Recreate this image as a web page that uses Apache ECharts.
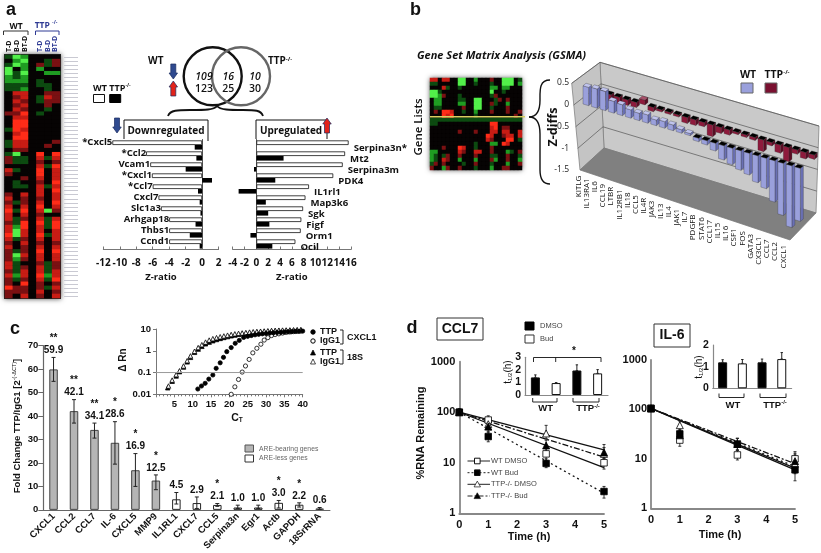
<!DOCTYPE html>
<html><head><meta charset="utf-8"><style>html,body{margin:0;padding:0;background:#fff}#c{width:821px;height:553px}</style>
<script src="https://cdn.jsdelivr.net/npm/echarts@6/dist/echarts.min.js"></script></head>
<body><div id="c"></div>
<script>
// ---- panel a heat map (letters are colour levels)
const heatCols=["T-D","B-D","BT-D","","T-D ","B-D ","BT-D "];
const colA1="d0dGGggdd00000r000d00dd0drr0Rr0000rRrRXRRrRRXRrRrrrRRrRrrXrr";
const colA2="GgG0ddgddRrRrRrRXXXRXRRrGdd0d00dd000d0d0ddgGGd00dGgdddgd0rr0";
const colA3="gGggGggdgRRrRrXRXXRXXRRr0dd000r0d0RrrRXRrXXRRrRrrRr0rRRrXrrR";
const colGap="000000000000000000000000000000000000000000000000000000000000";
const colA4="00rg00dd00dd00d000000000XRrRXXRrRRRrRXRrRXRRXRrRXRRrRRXRrrRr";
const colA5="0dd0g00ddrRrrd00000000r00d0d0000d00000G0ddd0d000000dddgd0d00g";
const colA6="0rr0g0000rrr000000000r00XRrXRRRXRXRRXRr0RXXRRRrRXRRrrRRXrRrR";
const heatLevels={G:-3,g:-2,d:-1,"0":0,r:1,R:2,X:3};
// ---- panel b small heat map rows
const gsmaRows=[
"RR0RR00GG00g000r00GGG0d",
"dd00000GG00d000d00GGG0g",
"000Rd00d0000000gg0gg000",
"GGd000000000000G00d0000",
"GGgr000d0000000dr000000",
"0gg0000dd00GG000dr0r000",
"0gg0000gg00GG00rd00g000",
"0dd00000r00GG00d000r000",
"0r0XXR00d00g000r000r00r",
"000XRX00000d000000000r0",
"ddddddddddddddddddddddd",
"dd0000000000000XX000000",
"000000000000000RX0rr000",
"0000000r000r000RR0RR00R",
"00000000000000XR00rRR0R",
"00000000000000Rr000XX0d",
"00000000000d000gg0XR000",
"000r000XR00d000r0000000",
"gg00000Rr00RR00r000gd0r",
"gd0dr00r000r000dd00r00d",
"gd0Rr00g000g000rg00r00g",
"dr0r0000d00r000d000g00r",
"r00gr00r000d000g00rr000"];
// ---- panel a venn labels and bar charts
const downGenes=["*Cxcl5","*Ccl2","Vcam1","*Cxcl1","*Ccl7","Cxcl7","Slc1a3","Arhgap18","Thbs1","Ccnd1"];
const downWT=[-10.9,-6.8,-6.3,-6.1,-6,-5.3,-5,-4,-4,-4];
const downTTP=[-0.9,-0.7,-2,1.2,-0.5,-0.3,-0.2,-0.8,-1.5,-0.3];
const upGenes=["Serpina3n*","Mt2","Serpina3m","PDK4","IL1rl1","Map3k6","Sgk","Figf","Orm1","Ocil"];
const upWT=[15.6,15,14.6,13,8.9,8.3,7.9,7.6,7.5,6.6];
const upTTP=[0,4.6,-0.4,3.2,-3,1.6,2,2.2,-1,2.7];
// ---- panel b
const gsmaGenes=["KITLG","IL13RA1","IL6","CCL19","LTBR","IL12RB1","IL18","CCL5","IL4R","JAK3","IL13","IL4","JAK1","IL7","PDGFB","STAT6","CCL17","IL15","IL16","CSF1","FOS","GATA3","CX3CL1","CCL7","CCL2","CXCL1"];
const gsmaWT=[0.42,0.44,0.44,0.27,0.25,0.19,0.17,0.19,0.13,0.15,0.13,0.08,0.05,-0.08,-0.1,-0.18,-0.33,-0.38,-0.45,-0.5,-0.62,-0.7,-0.95,-1.2,-1.42,-1.22];
const gsmaTTP=[-0.1,-0.16,-0.18,-0.13,-0.12,0.11,-0.1,-0.05,-0.05,-0.05,-0.14,-0.13,-0.1,-0.27,-0.14,-0.12,-0.05,-0.06,-0.07,-0.27,-0.08,-0.19,-0.33,-0.1,-0.15,-0.1];
// ---- panel c
const foldGenes=["CXCL1","CCL2","CCL7","IL-6","CXCL5","MMP9","IL1RL1","CXCL7","CCL5","Serpina3n","Egr1","Actb","GAPDH","18SrRNA"];
const foldValues=[59.9,42.1,34.1,28.6,16.9,12.5,4.5,2.9,2.1,1.0,1.0,3.0,2.2,0.6];
const foldLow=[54.8,37,30.6,19.5,10,8.6,2.5,0.6,1.5,0.6,0.6,0.8,1.2,0.2];
const foldHigh=[65,47,37,37.6,24,14.9,7.4,5.5,2.7,2,2,4,3,1];
const foldStars=["**","**","**","*","*","*","","","*","","","*","*",""];
const foldAre=[1,1,1,1,1,1,0,0,0,0,0,0,0,1];
const ctTtpCxcl1=[[11.4,0.0175],[12.4,0.024],[13.4,0.032],[14.4,0.05],[15.5,0.077],[16.4,0.156],[17.5,0.28],[18.4,0.5],[19.3,0.91],[20.5,1.4],[21.6,2.2],[22.7,3],[23.9,4.1],[25,4.6],[26,5],[27,5.4],[28,5.7],[29,6],[30,6.2],[31,6.5],[32,6.7],[33,6.9],[34,7],[35,7.2],[36,7.4],[37,7.5],[38,7.7],[39,7.8],[40,8]];
const ctIggCxcl1=[[20.5,0.01],[21.5,0.022],[22.5,0.048],[23.5,0.105],[24.4,0.2],[25.4,0.4],[26.4,0.8],[27.5,1.3],[28.6,2],[29.5,3.1],[30.5,4],[31.5,5],[32.5,5.6],[33.5,6],[34.5,6.5],[35.5,7],[36.5,7.3],[37.5,7.6],[38.5,7.8],[39.5,8]];
const ctTtp18s=[[3.2,0.02],[4.4,0.04],[5.5,0.07],[6.4,0.11],[7.5,0.18],[8.5,0.31],[9.4,0.5],[10.5,0.85],[11.5,1.2],[12.5,1.6],[13.5,2.1],[14.5,2.5],[15.5,2.9],[16.5,3.3],[17.5,3.7],[18.5,4.1],[19.5,4.5],[20.5,4.9],[21.5,5.3],[22.5,5.7],[23.5,6],[24.5,6.3],[25.5,6.6],[26.5,6.9],[27.5,7.2],[28.5,7.5],[29.5,7.7],[30.5,7.9],[31.5,8.1],[32.5,8.3],[33.5,8.4],[34.5,8.5],[35.5,8.6],[36.5,8.7],[37.5,8.8],[38.5,8.9],[39.5,9]];
const ctIgg18s=[[3.4,0.024],[4.4,0.045],[5.5,0.08],[6.4,0.12],[7.5,0.2],[8.5,0.35],[9.4,0.58],[10.5,0.95],[11.5,1.4],[12.5,1.9],[13.5,2.5],[14.5,3.1],[15.5,3.6],[16.5,4],[17.5,4.4],[18.5,4.8],[19.5,5.2],[20.5,5.6],[21.5,6],[22.5,6.3],[23.5,6.6],[24.5,6.9],[25.5,7.2],[26.5,7.5],[27.5,7.7],[28.5,7.9],[29.5,8.1],[30.5,8.3],[31.5,8.5],[32.5,8.6],[33.5,8.8],[34.5,8.9],[35.5,9],[36.5,9.1],[37.5,9.2],[38.5,9.3],[39.5,9.4]];
const thresholdLine=[[0,0.1],[40,0.1]];
// ---- panel d
const timePoints=[0,1,3,5];
const fitTimes=[0,5];
const ccl7WtDmso=[100,70,15,10],ccl7WtDmsoLow=[90,52,11,7.5],ccl7WtDmsoHigh=[115,85,19,13],ccl7WtDmsoFit=[100,8];
const ccl7WtBud=[100,33,9.7,2.7],ccl7WtBudLow=[90,26,8,2],ccl7WtBudHigh=[115,42,12,3.4],ccl7WtBudFit=[100,2.5];
const ccl7TtpDmso=[100,58,38,15],ccl7TtpDmsoLow=[90,45,28,12],ccl7TtpDmsoHigh=[115,72,55,20],ccl7TtpDmsoFit=[100,18];
const ccl7TtpBud=[100,52,22,16],ccl7TtpBudLow=[90,40,16,12],ccl7TtpBudHigh=[115,65,30,23],ccl7TtpBudFit=[100,13];
const il6WtDmso=[105,24,12,10],il6WtDmsoLow=[95,18,9.5,7],il6WtDmsoHigh=[115,30,15,14],il6WtDmsoFit=[105,6];
const il6WtBud=[105,32,20,6],il6WtBudLow=[95,25,15,3.6],il6WtBudHigh=[115,40,26,9],il6WtBudFit=[105,7];
const il6TtpDmso=[105,48,20,8],il6TtpDmsoLow=[95,38,15,5],il6TtpDmsoHigh=[115,58,26,12],il6TtpDmsoFit=[105,6.5];
const il6TtpBud=[105,30,20,9],il6TtpBudLow=[95,24,15,6],il6TtpBudHigh=[115,38,26,13],il6TtpBudFit=[105,8];
const halfLifeGroups=["WT DMSO","WT Bud","TTP DMSO","TTP Bud"];
const ccl7HalfLife=[1.4,0.95,1.95,1.72],ccl7HalfLifeErr=[0.2,0.03,0.45,0.3];
const il6HalfLife=[1.2,1.15,1.2,1.35],il6HalfLifeErr=[0.12,0.18,0.15,0.3];

const FA="'Open Sans',sans-serif", FL="'Liberation Sans',Arial,sans-serif";
const grid=[],xAxis=[],yAxis=[],series=[],graphic=[];
function addAxes(g,x,y){grid.push(Object.assign({containLabel:false},g));const i=grid.length-1;
  xAxis.push(Object.assign({gridIndex:i},x));yAxis.push(Object.assign({gridIndex:i},y));return i;}
function T(x,y,text,o){o=o||{};graphic.push({type:'text',x,y,rotation:o.rot||0,z:o.z||5,silent:true,style:{text,fill:o.color||'#111',fontSize:o.size||10,fontWeight:o.weight||'bold',fontStyle:o.italic?'italic':'normal',fontFamily:o.font||FA,align:o.align||'center',verticalAlign:'middle',rich:o.rich}});}
// decorative strokes: M/L straight segments and C curves become line and bezierCurve elements
function P(d,o){o=o||{};const tk=d.match(/[MLC]|-?[\d.]+/g);let i=0,cx=0,cy=0,cmd='M';
  const st={stroke:o.stroke===undefined?'#111':o.stroke,lineWidth:o.lw||1,fill:'none'};
  while(i<tk.length){if(/[MLC]/.test(tk[i]))cmd=tk[i++];
    if(cmd==='M'){cx=+tk[i++];cy=+tk[i++];}
    else if(cmd==='L'){const x=+tk[i++],y=+tk[i++];graphic.push({type:'line',z:o.z===undefined?1:o.z,silent:true,shape:{x1:cx,y1:cy,x2:x,y2:y},style:st});cx=x;cy=y;}
    else{const a=tk.slice(i,i+6).map(Number);i+=6;graphic.push({type:'bezierCurve',z:o.z===undefined?1:o.z,silent:true,shape:{x1:cx,y1:cy,cpx1:a[0],cpy1:a[1],cpx2:a[2],cpy2:a[3],x2:a[4],y2:a[5]},style:st});cx=a[4];cy=a[5];}
  }}
function poly(points,fill,stroke,z){graphic.push({type:'polygon',z:z||0,silent:true,shape:{points},style:{fill,stroke:stroke||'none',lineWidth:0.7}});}
function R(x,y,w,h,fill,stroke,o){o=o||{};graphic.push({type:'rect',z:o.z===undefined?1:o.z,silent:true,shape:{x,y,width:w,height:h},style:Object.assign({fill,stroke:stroke||'none',lineWidth:o.lw||1},o.style||{})});}
function C(cx,cy,r,stroke,lw){graphic.push({type:'circle',z:3,silent:true,shape:{cx,cy,r},style:{fill:'none',stroke,lineWidth:lw}});}
const supRich=(s)=>({s:{fontSize:s,fontWeight:'bold',padding:[0,0,5,0],fontFamily:FA}});

// ---------- heat maps
function heatSeries(gi,cells){series.push({type:'heatmap',xAxisIndex:gi,yAxisIndex:gi,data:cells,progressive:0,animation:false,itemStyle:{borderWidth:0},emphasis:{disabled:true}});return series.length-1;}
R(4,54,57,245,'#222','none',{style:{shadowBlur:5,shadowColor:'#555'},z:0});
const aColumns=[colA1,colA2,colA3,colGap,colA4,colA5,colA6];
const aCells=[];aColumns.forEach((col,c)=>[...col].forEach((ch,r)=>aCells.push([c,r,heatLevels[ch]])));
const rowIds=[...colGap].map((_,i)=>String(i));
let g=addAxes({left:5,top:55,width:55,height:243},{type:'category',data:heatCols,show:false},
  {type:'category',data:rowIds,inverse:true,position:'right',offset:4,axisLine:{show:false},axisLabel:{show:false},axisTick:{show:true,interval:0,length:14,alignWithLabel:true,lineStyle:{color:'#c9c9d2',width:1}}});
const h1=heatSeries(g,aCells);

R(430,78,92,92,'#111','none',{style:{shadowBlur:5,shadowColor:'#555'},z:0});
const bCells=[];gsmaRows.forEach((row,r)=>[...row].forEach((ch,c)=>bCells.push([c,r,heatLevels[ch]])));
g=addAxes({left:430,top:78,width:92,height:92},{type:'category',data:[...gsmaRows[0]].map((_,i)=>'c'+i),show:false},
  {type:'category',data:gsmaRows.map((_,i)=>'r'+i),inverse:true,show:false});
const h2=heatSeries(g,bCells);

// ---------- panel a bars
function regBars(left,width,min,max,labels,white,black){
  const gi=addAxes({left,top:139.5,width,height:110},
   {type:'value',min,max,interval:2,splitLine:{show:false},axisLine:{show:true,onZero:false,lineStyle:{color:'#777'}},axisTick:{show:true,inside:true,length:3,lineStyle:{color:'#777'}},axisLabel:{color:'#111',fontWeight:'bold',fontFamily:FA,fontSize:10,margin:9},
    name:'Z-ratio',nameLocation:'middle',nameGap:23,nameTextStyle:{color:'#111',fontWeight:'bold',fontFamily:FA,fontSize:9.5}},
   {type:'category',data:labels,inverse:true,axisLabel:{show:false},axisTick:{show:false},axisLine:{show:true,lineStyle:{color:'#555'}},splitLine:{show:false}});
  const isDown=left<200;
  series.push({type:'bar',xAxisIndex:gi,yAxisIndex:gi,data:white,barWidth:4.6,barGap:'0%',animation:false,itemStyle:{color:'#fff',borderColor:'#111',borderWidth:0.8},
    label:{show:true,position:isDown?'left':'right',distance:isDown?0:2,offset:isDown?[0,0]:[3,6],formatter:p=>labels[p.dataIndex],color:'#111',fontWeight:'bold',fontFamily:FA,fontSize:9.6}});
  series.push({type:'bar',xAxisIndex:gi,yAxisIndex:gi,data:black,barWidth:4.6,barGap:'0%',animation:false,itemStyle:{color:'#000'}});
}
regBars(103.3,115.3,-12,2,downGenes,downWT,downTTP);
regBars(232.7,118.3,-4,16,upGenes,upWT,upTTP);
P("M124,139 L124,120 L208,120 L208,141",{lw:1});
P("M256,139 L256,120 L327,120 L327,139",{lw:1});
T(166,131,"Downregulated",{size:10});
T(291,131,"Upregulated",{size:10});
P("M168,116 C170,110 178,110 190,110 C205,110 214,110 217,106 C220,110 230,110 243,110 C255,110 261,110 263,116",{lw:1.8});
function arrow(x,y,h,w,up,fill){const hw=w*0.85,head=h*0.4;
  const p=up?[[x,y],[x+hw,y+head],[x+w/2,y+head],[x+w/2,y+h],[x-w/2,y+h],[x-w/2,y+head],[x-hw,y+head]]
            :[[x,y+h],[x+hw,y+h-head],[x+w/2,y+h-head],[x+w/2,y],[x-w/2,y],[x-w/2,y+h-head],[x-hw,y+h-head]];
  poly(p,fill,'#1a2b60',6);}
arrow(117,118,15,5,false,'#2f4a8f');
arrow(327,118,15,5,true,'#e2231a');
arrow(173.3,64,15,5,false,'#2f4a8f');
arrow(173.3,81,15,5,true,'#e2231a');
C(212.7,76.3,29,'#111',2.4);C(241,76.3,29,'#666',2.4);
[[204,"109"],[228.3,"16"],[255,"10"]].forEach(a=>T(a[0],76.7,a[1],{size:10.5,italic:true,weight:'600'}));
[[204,"123"],[228.3,"25"],[255,"30"]].forEach(a=>T(a[0],88.7,a[1],{size:10.5,weight:'600'}));
T(155.7,61.5,"WT",{size:10});
T(280,61.5,"TTP{s|-/-}",{size:10,rich:supRich(6)});
T(100,88,"WT",{size:9});T(120,88,"TTP{s|-/-}",{size:9,rich:supRich(5)});
R(93.5,94.5,11,8,'#fff','#111');R(109.7,94.5,11,8,'#000','#000');
T(6,10,"a",{size:18,font:FL,align:'left'});
T(16,27,"WT",{size:8.5});
T(46,25.5,"TTP {s|-/-}",{size:8.5,color:'#2f3b94',rich:supRich(5)});
P("M3.5,35 L3.5,31 L28,31 L28,35",{lw:1,stroke:'#333'});
P("M35.5,35 L35.5,31 L59,31 L59,35",{lw:1,stroke:'#2f3b94'});
[[8.7,"T-D",'#111'],[16.7,"B-D",'#111'],[24.5,"BT-D",'#111'],[39.5,"T-D",'#2f3b94'],[47.5,"B-D",'#2f3b94'],[55.4,"BT-D",'#2f3b94']].forEach(a=>
  T(a[0],52,a[1],{size:7,rot:Math.PI/2,align:'left',color:a[2]}));

// ---------- panel b
T(410,10,"b",{size:18,font:FL,align:'left'});
T(417,55.7,"Gene Set Matrix Analysis (GSMA)",{size:11,italic:true,align:'left'});
T(419,127,"Gene Lists",{size:11.5,rot:Math.PI/2,weight:'600'});
T(553,127,"Z-diffs",{size:12.5,rot:Math.PI/2});
R(430,116,95,1.4,'#d8cf60','none',{z:4});
P("M550,80 C539,80 540,90 540,100 C540,112 536,117 529,117 C536,117 540,122 540,134 L540,170 C540,180 544,184 550,184",{lw:1.4});
poly([[600,62.3],[819,126],[816,213],[604,148]],'#c9c9c9','#777');
poly([[571.7,83.3],[600,62.3],[604,148],[580,170]],'#c4c4c4','#777');
poly([[580,170],[604,148],[816,213],[790,240]],'#808080','#777');
[0,1,2,3].forEach(k=>{const yL=83.3+21.7*k,xL=571.7+2*k,yM=62.3+21.5*k,xM=600+1*k,yR=126+21.7*k,xR=819-0.75*k;
  P(`M${xL},${yL} L${xM},${yM} L${xR},${yR}`,{lw:0.7,stroke:'#555',z:0});});
T(748,75,"WT",{size:10.5});T(777,75,"TTP{s|-/-}",{size:10.5,rich:supRich(6)});
R(741,83,12,10,'#9aa0dc','#666',{z:2});R(765,83,12,10,'#7a1030','#666',{z:2});
g=addAxes({left:572,top:83,width:239.7,height:87},{type:'value',min:-1.3,max:27,show:false},
  {type:'value',min:-1.5,max:0.5,interval:0.5,splitLine:{show:false},axisLine:{show:false},axisTick:{show:false},axisLabel:{color:'#222',fontFamily:FA,fontSize:8.5,margin:3,formatter:v=>String(v)}});
const gb=g;
function bars3d(values,dx,dy,fc,sc,lc){return {type:'custom',xAxisIndex:gb,yAxisIndex:gb,animation:false,clip:false,silent:true,
  data:values.map((v,i)=>[i,v]),encode:{x:0,y:1},renderItem:(params,api)=>{
   const i=api.value(0),v=api.value(1),S=2.507,sl=0.296,W=5.6,Dx=3,Dy=-2.5;
   const c0=api.coord([i,0]),c1=api.coord([i,v]);
   const x=c0[0]+dx,y0=c0[1]+i*S+dy,y1=c1[1]+i*S+dy,ys=W*sl,t=Math.min(y0,y1);
   return {type:'group',children:[
    {type:'polygon',shape:{points:[[x+W,y0+ys],[x+W+Dx,y0+ys+Dy],[x+W+Dx,y1+ys+Dy],[x+W,y1+ys]]},style:{fill:sc,stroke:'#333',lineWidth:0.3}},
    {type:'polygon',shape:{points:[[x,y0],[x+W,y0+ys],[x+W,y1+ys],[x,y1]]},style:{fill:fc,stroke:'#333',lineWidth:0.3}},
    {type:'polygon',shape:{points:[[x,t],[x+W,t+ys],[x+W+Dx,t+ys+Dy],[x+Dx,t+Dy]]},style:{fill:v<0?'#000':lc,stroke:'#222',lineWidth:0.3}}]};}};}
series.push(bars3d(gsmaTTP,14,-14.05,'#8e1a3c','#5a0c24','#a8506a'));
series.push(bars3d(gsmaWT,0,-0.75,'#9aa0dc','#6a70b4','#c0c4ee'));
series.push({type:'custom',xAxisIndex:gb,yAxisIndex:gb,animation:false,clip:false,silent:true,data:gsmaGenes.map((n,i)=>[i,-1.5]),encode:{x:0,y:1},
  renderItem:(params,api)=>{const i=api.value(0),c=api.coord([i,-1.5]);
    return {type:'text',x:c[0]-4.6+(-0.27)*i,y:c[1]+5.7+2.77*i,rotation:Math.PI/2,style:{text:gsmaGenes[i],align:'right',verticalAlign:'middle',fontSize:8,fontFamily:FA,fill:'#111'}};}});

// ---------- panel c
T(15,329,"c",{size:18,font:FL});
g=addAxes({left:43.3,top:345.7,width:286.6,height:166.3},
  {type:'category',data:foldGenes,axisLine:{lineStyle:{color:'#666',width:1.2}},axisTick:{show:false},axisLabel:{interval:0,rotate:45,color:'#111',fontWeight:'bold',fontFamily:FL,fontSize:9.5,margin:5}},
  {type:'value',min:0,max:70,interval:10,splitLine:{show:false},axisLine:{show:true,lineStyle:{color:'#666',width:1.2}},axisTick:{show:true,lineStyle:{color:'#666'}},axisLabel:{color:'#111',fontWeight:'bold',fontFamily:FL,fontSize:9.5,margin:5}});
const gc=g;
series.push({type:'bar',xAxisIndex:gc,yAxisIndex:gc,barWidth:8.5,animation:false,data:foldValues.map((v,i)=>({value:v,itemStyle:{color:foldAre[i]?'#b5b5b5':'#fff',borderColor:foldAre[i]?'#444':'#222',borderWidth:1}}))});
function errBars(gi,xs,lows,highs,color,cap,lw){return {type:'custom',xAxisIndex:gi,yAxisIndex:gi,animation:false,clip:false,silent:true,z:4,
  data:xs.map((x,i)=>[x,lows[i],highs[i]]),encode:{x:0,y:[1,2]},renderItem:(p,api)=>{
   const a=api.coord([api.value(0),api.value(1)]),b=api.coord([api.value(0),api.value(2)]),st={stroke:color,lineWidth:lw||1};
   return {type:'group',children:[
    {type:'line',shape:{x1:a[0],y1:a[1],x2:b[0],y2:b[1]},style:st},
    {type:'line',shape:{x1:a[0]-cap,y1:a[1],x2:a[0]+cap,y2:a[1]},style:st},
    {type:'line',shape:{x1:b[0]-cap,y1:b[1],x2:b[0]+cap,y2:b[1]},style:st}]};}};}
series.push(errBars(gc,foldGenes.map((_,i)=>i),foldLow,foldHigh,'#222',2,1));
series.push({type:'scatter',xAxisIndex:gc,yAxisIndex:gc,symbolSize:0,animation:false,silent:true,itemStyle:{opacity:1},data:foldHigh.map((v,i)=>[i,v]),
  label:{show:true,position:'top',distance:1,opacity:1,formatter:p=>{const s=foldStars[p.dataIndex];const t=foldValues[p.dataIndex].toFixed(1);return s?s+"\n"+t:t;},color:'#111',fontWeight:'bold',fontFamily:FL,fontSize:10,lineHeight:12}});
T(17,426,"Fold Change TTP/IgG1 [2{s|-(-ΔCT)}]",{font:FL,size:9.5,rot:Math.PI/2,weight:'600',rich:{s:{fontSize:5.5,fontFamily:FL,padding:[0,0,5,0]}}});
R(245,445,8.5,7,'#b5b5b5','#555');R(245,455,8.5,7,'#fff','#333');
T(259,449,"ARE-bearing genes",{font:FL,size:6.8,weight:'normal',align:'left',color:'#666'});
T(259,458.5,"ARE-less genes",{font:FL,size:6.8,weight:'normal',align:'left',color:'#666'});
// inset
g=addAxes({left:156,top:329,width:146.7,height:65.3},
  {type:'value',min:0,max:40,interval:5,splitLine:{show:false},axisLine:{lineStyle:{color:'#777'}},axisTick:{lineStyle:{color:'#777'},length:3},minorTick:{show:true,splitNumber:5,length:2,lineStyle:{color:'#777'}},axisLabel:{color:'#111',fontWeight:'bold',fontFamily:FL,fontSize:9.5,margin:5,formatter:v=>v===0?'':v}},
  {type:'log',min:0.01,max:10,logBase:10,splitLine:{show:false},minorTick:{show:false},minorSplitLine:{show:false},axisLine:{show:true,lineStyle:{color:'#777'}},axisTick:{show:true,lineStyle:{color:'#777'},length:3},axisLabel:{color:'#111',fontWeight:'bold',fontFamily:FL,fontSize:9.5,margin:5}});
series.push({type:'line',xAxisIndex:g,yAxisIndex:g,data:thresholdLine,showSymbol:false,animation:false,silent:true,lineStyle:{color:'#999',width:1}});
function pts(gi,data,sym,fill,size){return {type:'scatter',xAxisIndex:gi,yAxisIndex:gi,data,symbol:sym,symbolSize:size,animation:false,silent:true,itemStyle:{color:fill,borderColor:'#000',borderWidth:0.8,opacity:1}};}
series.push(pts(g,ctTtp18s,'triangle','#000',4.5));
series.push(pts(g,ctIgg18s,'triangle','#fff',4.5));
series.push(pts(g,ctIggCxcl1,'circle','#fff',4.2));
series.push(pts(g,ctTtpCxcl1,'circle','#000',4.2));
T(123,360,"Δ Rn",{font:FL,size:10,rot:Math.PI/2,weight:'600'});
T(237,418,"C{s|T}",{font:FL,size:10.5,rich:{s:{fontSize:6.5,fontFamily:FL,fontWeight:'bold',padding:[5,0,0,0]}}});
graphic.push({type:'circle',z:5,silent:true,shape:{cx:313,cy:332,r:2.2},style:{fill:'#000',stroke:'#000'}});
graphic.push({type:'circle',z:5,silent:true,shape:{cx:313,cy:341,r:2.2},style:{fill:'#fff',stroke:'#000'}});
poly([[313,350],[315.5,355],[310.5,355]],'#000','#000',5);poly([[313,359],[315.5,364],[310.5,364]],'#fff','#000',5);
[[332,"TTP"],[341,"IgG1"],[353,"TTP"],[362,"IgG1"]].forEach(a=>T(320,a[0],a[1],{font:FL,size:9,align:'left'}));
P("M340,330 L343,330 L343,344 L340,344",{lw:0.9});P("M340,350 L343,350 L343,364 L340,364",{lw:0.9});
T(347,337.5,"CXCL1",{font:FL,size:9,align:'left'});T(347,357.5,"18S",{font:FL,size:9,align:'left'});

// ---------- panel d
T(412,328,"d",{size:18,font:FL});
function decayChart(left,top,w,h,sets){
  const gi=addAxes({left,top,width:w,height:h},
    {type:'value',min:0,max:5,interval:1,splitLine:{show:false},axisLine:{lineStyle:{color:'#888',width:1.8}},axisTick:{show:false},axisLabel:{color:'#111',fontWeight:'bold',fontFamily:FL,fontSize:11,margin:6}},
    {type:'log',min:1,max:1000,logBase:10,splitLine:{show:false},minorTick:{show:false},minorSplitLine:{show:false},axisLine:{show:true,lineStyle:{color:'#888',width:1.8}},axisTick:{show:false},axisLabel:{color:'#111',fontWeight:'bold',fontFamily:FL,fontSize:11,margin:4,formatter:v=>String(Math.round(v))}});
  sets.forEach(s=>{
    series.push({type:'line',xAxisIndex:gi,yAxisIndex:gi,showSymbol:false,animation:false,silent:true,data:fitTimes.map((t,i)=>[t,s.fit[i]]),lineStyle:{color:'#111',width:s.lw||1.3,type:s.dash}});
    series.push(errBars(gi,timePoints,s.low,s.high,'#222',1.5,0.9));
    series.push(Object.assign(pts(gi,timePoints.map((t,i)=>[t,s.mean[i]]),s.sym,s.fill,s.sym==='rect'?6.5:7),{z:5}));
  });
}
decayChart(459.3,361.7,144.7,151.6,[
 {mean:ccl7WtDmso,low:ccl7WtDmsoLow,high:ccl7WtDmsoHigh,fit:ccl7WtDmsoFit,sym:'rect',fill:'#fff',dash:'solid'},
 {mean:ccl7WtBud,low:ccl7WtBudLow,high:ccl7WtBudHigh,fit:ccl7WtBudFit,sym:'rect',fill:'#000',dash:[2,3]},
 {mean:ccl7TtpDmso,low:ccl7TtpDmsoLow,high:ccl7TtpDmsoHigh,fit:ccl7TtpDmsoFit,sym:'triangle',fill:'#fff',dash:'solid'},
 {mean:ccl7TtpBud,low:ccl7TtpBudLow,high:ccl7TtpBudHigh,fit:ccl7TtpBudFit,sym:'triangle',fill:'#000',dash:[6,2,2,2]}]);
decayChart(651,360,144,148.3,[
 {mean:il6WtDmso,low:il6WtDmsoLow,high:il6WtDmsoHigh,fit:il6WtDmsoFit,sym:'rect',fill:'#fff',dash:'solid'},
 {mean:il6TtpDmso,low:il6TtpDmsoLow,high:il6TtpDmsoHigh,fit:il6TtpDmsoFit,sym:'triangle',fill:'#fff',dash:'solid'},
 {mean:il6WtBud,low:il6WtBudLow,high:il6WtBudHigh,fit:il6WtBudFit,sym:'rect',fill:'#000',dash:[2,3]},
 {mean:il6TtpBud,low:il6TtpBudLow,high:il6TtpBudHigh,fit:il6TtpBudFit,sym:'triangle',fill:'#000',dash:[6,2,2,2]}]);
function halfChart(left,top,w,h,vals,errs,maxV,yoff){
  const gi=addAxes({left,top,width:w,height:h},
    {type:'category',data:halfLifeGroups,axisLabel:{show:false},axisTick:{show:false},axisLine:{lineStyle:{color:'#888',width:1.2}}},
    {type:'value',min:0,max:maxV,interval:1,offset:yoff,splitLine:{show:false},axisLine:{show:true,lineStyle:{color:'#888',width:1.2}},axisTick:{show:false},axisLabel:{color:'#111',fontWeight:'bold',fontFamily:FL,fontSize:10.5,margin:4}});
  series.push({type:'bar',xAxisIndex:gi,yAxisIndex:gi,barWidth:9,animation:false,silent:true,data:vals.map((v,i)=>({value:v,itemStyle:{color:i%2?'#fff':'#000',borderColor:'#111',borderWidth:1}}))});
  series.push(errBars(gi,[0,1,2,3],vals.map((v,i)=>v),vals.map((v,i)=>v+errs[i]),'#222',1.2,1));
}
halfChart(525,357.3,83,37.7,ccl7HalfLife,ccl7HalfLifeErr,3,0);
halfChart(712.8,345,78.8,43.3,il6HalfLife,il6HalfLifeErr,2,0);
R(437,318,46,22,'#fff','#333',{lw:1});T(460,329,"CCL7",{font:FL,size:14});
R(654,324,36,23,'#fff','#333',{lw:1});T(672,335.5,"IL-6",{font:FL,size:14});
R(525,322,9,8,'#000','#000');T(540,326,"DMSO",{font:FL,size:7.5,weight:'normal',align:'left',color:'#444'});
R(525,335,9,8,'#fff','#333');T(540,339,"Bud",{font:FL,size:7.5,weight:'normal',align:'left',color:'#444'});
P("M533.5,362 L533.5,357.5 L601,357.5 L601,362 M555.7,357.5 L555.7,362",{lw:0.9});
T(574,351,"*",{font:FL,size:10});
P("M532.7,398 L532.7,402 L557,402 L557,398 M573,398 L573,402 L599,402 L599,398",{lw:0.9});
T(545.7,408.5,"WT",{font:FL,size:9.5});T(588,408.5,"TTP{s|-/-}",{font:FL,size:9.5,rich:{s:{fontSize:6,fontFamily:FL,fontWeight:'bold',padding:[0,0,5,0]}}});
P("M719,393.5 L719,397.5 L744,397.5 L744,393.5 M760,393.5 L760,397.5 L786,397.5 L786,393.5",{lw:0.9});
T(733,405.5,"WT",{font:FL,size:9.5});T(775,405,"TTP{s|-/-}",{font:FL,size:9.5,rich:{s:{fontSize:6,fontFamily:FL,fontWeight:'bold',padding:[0,0,5,0]}}});
T(508,372,"t{s|1/2}(h)",{font:FL,size:10,rot:Math.PI/2,weight:'normal',rich:{s:{fontSize:6,fontFamily:FL,padding:[4,0,0,0]}}});
T(699,367,"t{s|1/2}(h)",{font:FL,size:10,rot:Math.PI/2,weight:'normal',rich:{s:{fontSize:6,fontFamily:FL,padding:[4,0,0,0]}}});
T(421,433,"%RNA Remaining",{font:FL,size:11,rot:Math.PI/2});
T(529,537,"Time (h)",{font:FL,size:11});T(720,535,"Time (h)",{font:FL,size:11});
[[461,"WT DMSO",'rect','#fff',[]],[472.7,"WT Bud",'rect','#000',[2,2]],[484.3,"TTP-/- DMSO",'tri','#fff',[]],[496,"TTP-/- Bud",'tri','#000',[5,2,2,2]]].forEach(a=>{
  graphic.push({type:'line',z:3,silent:true,shape:{x1:467.5,y1:a[0],x2:490,y2:a[0]},style:{stroke:'#222',lineWidth:1,lineDash:a[4]}});
  if(a[2]==='rect')R(474.5,a[0]-2.8,5.6,5.6,a[3],'#111',{z:4});else poly([[477.3,a[0]-3.2],[480.5,a[0]+2.6],[474.1,a[0]+2.6]],a[3],'#111',4);
  T(491,a[0],a[1],{font:FL,size:7.5,weight:'normal',align:'left',color:'#444'});
});

const chart=echarts.init(document.getElementById('c'),null,{renderer:'canvas'});
chart.setOption({animation:false,backgroundColor:'#fff',tooltip:{show:false},grid,xAxis,yAxis,series,graphic:{elements:graphic},
  visualMap:{show:false,type:'continuous',min:-3,max:3,seriesIndex:[h1,h2],dimension:2,calculable:false,inRange:{color:['#52f04a','#1f9c22','#0c4a10','#060303','#7a1012','#c81c14','#ff2c18']}}});
</script></body></html>
